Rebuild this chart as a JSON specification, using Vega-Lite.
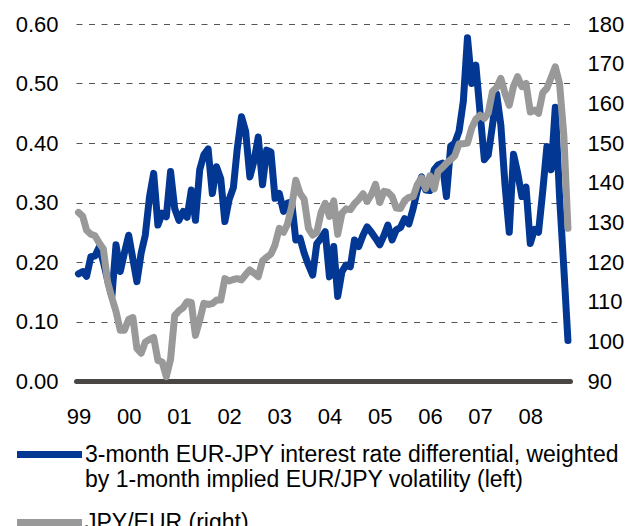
{
  "$schema": "https://vega.github.io/schema/vega-lite/v6.json",
  "width": 494,
  "height": 357,
  "autosize": {"type": "none"},
  "padding": {"left": 76, "top": 24, "right": 74, "bottom": 145},
  "background": "white",
  "config": {
    "view": {"stroke": null},
    "font": "Liberation Sans",
    "axis": {"labelFont": "Liberation Sans", "labelColor": "#000000", "labelFontSize": 22, "title": null, "ticks": false},
    "legend": {"labelFont": "Liberation Sans", "labelColor": "#000000"}
  },
  "data": {
    "values": [
      {"date": "1999-01-01", "rate": 0.18, "jpy": 132.5},
      {"date": "1999-02-01", "rate": 0.184, "jpy": 131.5},
      {"date": "1999-03-01", "rate": 0.176, "jpy": 128.0},
      {"date": "1999-04-01", "rate": 0.209, "jpy": 127.0},
      {"date": "1999-05-01", "rate": 0.21, "jpy": 126.6},
      {"date": "1999-06-01", "rate": 0.225, "jpy": 124.8},
      {"date": "1999-07-01", "rate": 0.2, "jpy": 123.3},
      {"date": "1999-08-01", "rate": 0.17, "jpy": 115.0},
      {"date": "1999-09-01", "rate": 0.142, "jpy": 111.0},
      {"date": "1999-10-01", "rate": 0.229, "jpy": 107.5},
      {"date": "1999-11-01", "rate": 0.184, "jpy": 102.8},
      {"date": "1999-12-01", "rate": 0.215, "jpy": 102.8},
      {"date": "2000-01-01", "rate": 0.245, "jpy": 105.5},
      {"date": "2000-02-01", "rate": 0.205, "jpy": 106.0},
      {"date": "2000-03-01", "rate": 0.167, "jpy": 98.2},
      {"date": "2000-04-01", "rate": 0.215, "jpy": 97.0},
      {"date": "2000-05-01", "rate": 0.245, "jpy": 99.8},
      {"date": "2000-06-01", "rate": 0.31, "jpy": 100.5},
      {"date": "2000-07-01", "rate": 0.349, "jpy": 101.0},
      {"date": "2000-08-01", "rate": 0.262, "jpy": 95.2},
      {"date": "2000-09-01", "rate": 0.282, "jpy": 94.8},
      {"date": "2000-10-01", "rate": 0.276, "jpy": 91.1},
      {"date": "2000-11-01", "rate": 0.352, "jpy": 95.5},
      {"date": "2000-12-01", "rate": 0.29, "jpy": 106.5},
      {"date": "2001-01-01", "rate": 0.27, "jpy": 107.7},
      {"date": "2001-02-01", "rate": 0.285, "jpy": 108.5},
      {"date": "2001-03-01", "rate": 0.275, "jpy": 110.0},
      {"date": "2001-04-01", "rate": 0.321, "jpy": 109.8},
      {"date": "2001-05-01", "rate": 0.27, "jpy": 101.5},
      {"date": "2001-06-01", "rate": 0.355, "jpy": 105.3},
      {"date": "2001-07-01", "rate": 0.38, "jpy": 109.6},
      {"date": "2001-08-01", "rate": 0.39, "jpy": 109.3},
      {"date": "2001-09-01", "rate": 0.315, "jpy": 109.5},
      {"date": "2001-10-01", "rate": 0.36, "jpy": 110.4},
      {"date": "2001-11-01", "rate": 0.34, "jpy": 110.4},
      {"date": "2001-12-01", "rate": 0.268, "jpy": 115.8},
      {"date": "2002-01-01", "rate": 0.305, "jpy": 115.2},
      {"date": "2002-02-01", "rate": 0.325, "jpy": 115.6},
      {"date": "2002-03-01", "rate": 0.39, "jpy": 115.8},
      {"date": "2002-04-01", "rate": 0.444, "jpy": 115.5},
      {"date": "2002-05-01", "rate": 0.42, "jpy": 116.8},
      {"date": "2002-06-01", "rate": 0.343, "jpy": 118.0},
      {"date": "2002-07-01", "rate": 0.37, "jpy": 117.2},
      {"date": "2002-08-01", "rate": 0.41, "jpy": 116.3},
      {"date": "2002-09-01", "rate": 0.33, "jpy": 120.3},
      {"date": "2002-10-01", "rate": 0.388, "jpy": 121.2},
      {"date": "2002-11-01", "rate": 0.385, "jpy": 122.0},
      {"date": "2002-12-01", "rate": 0.307, "jpy": 124.3},
      {"date": "2003-01-01", "rate": 0.315, "jpy": 128.5},
      {"date": "2003-02-01", "rate": 0.285, "jpy": 127.5},
      {"date": "2003-03-01", "rate": 0.299, "jpy": 129.5},
      {"date": "2003-04-01", "rate": 0.301, "jpy": 134.0},
      {"date": "2003-05-01", "rate": 0.237, "jpy": 140.6},
      {"date": "2003-06-01", "rate": 0.24, "jpy": 137.3},
      {"date": "2003-07-01", "rate": 0.215, "jpy": 135.8},
      {"date": "2003-08-01", "rate": 0.195, "jpy": 128.5},
      {"date": "2003-09-01", "rate": 0.178, "jpy": 126.8},
      {"date": "2003-10-01", "rate": 0.231, "jpy": 127.5},
      {"date": "2003-11-01", "rate": 0.24, "jpy": 132.5},
      {"date": "2003-12-01", "rate": 0.251, "jpy": 134.8},
      {"date": "2004-01-01", "rate": 0.175, "jpy": 131.5},
      {"date": "2004-02-01", "rate": 0.226, "jpy": 135.4},
      {"date": "2004-03-01", "rate": 0.142, "jpy": 127.0},
      {"date": "2004-04-01", "rate": 0.184, "jpy": 132.3},
      {"date": "2004-05-01", "rate": 0.195, "jpy": 133.4},
      {"date": "2004-06-01", "rate": 0.192, "jpy": 133.2},
      {"date": "2004-07-01", "rate": 0.237, "jpy": 134.7},
      {"date": "2004-08-01", "rate": 0.226, "jpy": 135.8},
      {"date": "2004-09-01", "rate": 0.245, "jpy": 137.2},
      {"date": "2004-10-01", "rate": 0.259, "jpy": 135.3},
      {"date": "2004-11-01", "rate": 0.25, "jpy": 137.0},
      {"date": "2004-12-01", "rate": 0.24, "jpy": 139.6},
      {"date": "2005-01-01", "rate": 0.229, "jpy": 135.0},
      {"date": "2005-02-01", "rate": 0.245, "jpy": 137.8},
      {"date": "2005-03-01", "rate": 0.262, "jpy": 137.6},
      {"date": "2005-04-01", "rate": 0.237, "jpy": 136.5},
      {"date": "2005-05-01", "rate": 0.254, "jpy": 133.6},
      {"date": "2005-06-01", "rate": 0.258, "jpy": 133.5},
      {"date": "2005-07-01", "rate": 0.273, "jpy": 135.5},
      {"date": "2005-08-01", "rate": 0.264, "jpy": 136.3},
      {"date": "2005-09-01", "rate": 0.29, "jpy": 136.5},
      {"date": "2005-10-01", "rate": 0.32, "jpy": 139.5},
      {"date": "2005-11-01", "rate": 0.343, "jpy": 141.2},
      {"date": "2005-12-01", "rate": 0.321, "jpy": 138.5},
      {"date": "2006-01-01", "rate": 0.32, "jpy": 141.7},
      {"date": "2006-02-01", "rate": 0.355, "jpy": 138.4},
      {"date": "2006-03-01", "rate": 0.363, "jpy": 142.8},
      {"date": "2006-04-01", "rate": 0.366, "jpy": 143.8},
      {"date": "2006-05-01", "rate": 0.31, "jpy": 144.9},
      {"date": "2006-06-01", "rate": 0.395, "jpy": 145.8},
      {"date": "2006-07-01", "rate": 0.4, "jpy": 146.8},
      {"date": "2006-08-01", "rate": 0.42, "jpy": 149.8},
      {"date": "2006-09-01", "rate": 0.47, "jpy": 149.8},
      {"date": "2006-10-01", "rate": 0.577, "jpy": 150.0},
      {"date": "2006-11-01", "rate": 0.5, "jpy": 153.8},
      {"date": "2006-12-01", "rate": 0.531, "jpy": 156.0},
      {"date": "2007-01-01", "rate": 0.45, "jpy": 157.0},
      {"date": "2007-02-01", "rate": 0.372, "jpy": 156.2},
      {"date": "2007-03-01", "rate": 0.38, "jpy": 157.5},
      {"date": "2007-04-01", "rate": 0.43, "jpy": 163.0},
      {"date": "2007-05-01", "rate": 0.483, "jpy": 164.0},
      {"date": "2007-06-01", "rate": 0.43, "jpy": 166.3},
      {"date": "2007-07-01", "rate": 0.33, "jpy": 162.5},
      {"date": "2007-08-01", "rate": 0.25, "jpy": 159.5},
      {"date": "2007-09-01", "rate": 0.381, "jpy": 164.3},
      {"date": "2007-10-01", "rate": 0.35, "jpy": 166.7},
      {"date": "2007-11-01", "rate": 0.31, "jpy": 164.2},
      {"date": "2007-12-01", "rate": 0.326, "jpy": 165.0},
      {"date": "2008-01-01", "rate": 0.231, "jpy": 157.8},
      {"date": "2008-02-01", "rate": 0.255, "jpy": 158.3},
      {"date": "2008-03-01", "rate": 0.25, "jpy": 157.5},
      {"date": "2008-04-01", "rate": 0.32, "jpy": 162.7},
      {"date": "2008-05-01", "rate": 0.394, "jpy": 163.8},
      {"date": "2008-06-01", "rate": 0.355, "jpy": 166.5},
      {"date": "2008-07-01", "rate": 0.46, "jpy": 169.2},
      {"date": "2008-08-01", "rate": 0.31, "jpy": 165.0},
      {"date": "2008-09-01", "rate": 0.19, "jpy": 152.0},
      {"date": "2008-10-01", "rate": 0.068, "jpy": 128.5}
    ]
  },
  "encoding": {
    "x": {
      "field": "date",
      "type": "temporal",
      "scale": {
        "type": "utc",
        "domain": [
          {"year": 1998, "month": 12, "date": 14, "utc": true},
          {"year": 2008, "month": 10, "date": 16, "utc": true}
        ]
      },
      "axis": {
        "values": [
          {"year": 1999, "month": 1, "date": 1, "utc": true},
          {"year": 2000, "month": 1, "date": 1, "utc": true},
          {"year": 2001, "month": 1, "date": 1, "utc": true},
          {"year": 2002, "month": 1, "date": 1, "utc": true},
          {"year": 2003, "month": 1, "date": 1, "utc": true},
          {"year": 2004, "month": 1, "date": 1, "utc": true},
          {"year": 2005, "month": 1, "date": 1, "utc": true},
          {"year": 2006, "month": 1, "date": 1, "utc": true},
          {"year": 2007, "month": 1, "date": 1, "utc": true},
          {"year": 2008, "month": 1, "date": 1, "utc": true}
        ],
        "format": "%y",
        "grid": false,
        "domainColor": "#4a4644",
        "domainWidth": 5,
        "domainCap": "round",
        "labelPadding": 25,
        "labelFlush": false,
        "labelOverlap": false
      }
    }
  },
  "layer": [
    {
      "mark": {"type": "line", "strokeWidth": 7, "strokeJoin": "round", "strokeCap": "round"},
      "encoding": {
        "y": {
          "field": "rate",
          "type": "quantitative",
          "scale": {"domain": [0, 0.6]},
          "axis": {
            "orient": "left",
            "values": [0, 0.1, 0.2, 0.3, 0.4, 0.5, 0.6],
            "format": ".2f",
            "domain": false,
            "grid": true,
            "gridDash": [6, 6.5],
            "gridColor": "#555555",
            "gridWidth": 1,
            "labelPadding": 18
          }
        },
        "color": {
          "datum": "3-month EUR-JPY interest rate differential, weighted by 1-month implied EUR/JPY volatility (left)",
          "scale": {
            "domain": [
              "3-month EUR-JPY interest rate differential, weighted by 1-month implied EUR/JPY volatility (left)",
              "JPY/EUR (right)"
            ],
            "range": ["#023893", "#999999"]
          },
          "legend": {
            "orient": "none",
            "legendX": -59,
            "legendY": 416,
            "title": null,
            "direction": "vertical",
            "symbolType": "M-3,0L3,0",
            "symbolSize": 469.4,
            "symbolStrokeWidth": 7,
            "symbolOffset": 18,
            "labelFontSize": 23,
            "labelOffset": 21,
            "labelLimit": 800,
            "padding": 0,
            "rowPadding": 16,
            "labelExpr": "datum.label == 'JPY/EUR (right)' ? datum.label : ['3-month EUR-JPY interest rate differential, weighted', 'by 1-month implied EUR/JPY volatility (left)']"
          }
        }
      }
    },
    {
      "mark": {"type": "line", "strokeWidth": 7, "strokeJoin": "round", "strokeCap": "round"},
      "encoding": {
        "y": {
          "field": "jpy",
          "type": "quantitative",
          "scale": {"domain": [90, 180]},
          "axis": {
            "orient": "right",
            "values": [90, 100, 110, 120, 130, 140, 150, 160, 170, 180],
            "domain": false,
            "grid": false,
            "labelPadding": 17
          }
        },
        "color": {"datum": "JPY/EUR (right)"}
      }
    }
  ],
  "resolve": {"scale": {"y": "independent"}}
}
